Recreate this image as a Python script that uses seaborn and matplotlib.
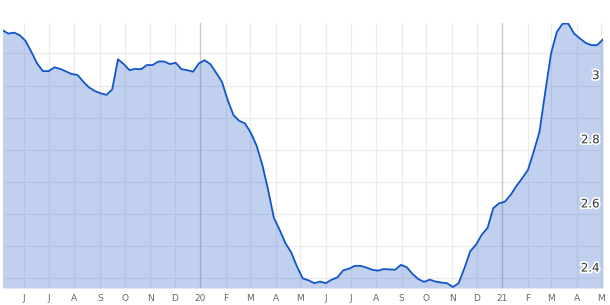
import numpy as np
import pandas as pd
import matplotlib
matplotlib.use("Agg")
import matplotlib.pyplot as plt
import matplotlib.patheffects as pe
import matplotlib.transforms as mtransforms
import seaborn as sns

# ---- data ----
start_date = "2019-05-06"
values = [3.173, 3.162, 3.165, 3.157, 3.139, 3.105, 3.069, 3.045, 3.045, 3.057,
          3.052, 3.044, 3.036, 3.033, 3.012, 2.994, 2.983, 2.976, 2.971, 2.988,
          3.082, 3.067, 3.048, 3.052, 3.051, 3.064, 3.064, 3.075, 3.075, 3.067,
          3.071, 3.051, 3.048, 3.043, 3.069, 3.079, 3.067, 3.040, 3.012, 2.955,
          2.908, 2.890, 2.882, 2.853, 2.813, 2.753, 2.675, 2.588, 2.550, 2.509,
          2.480, 2.436, 2.399, 2.393, 2.384, 2.389, 2.384, 2.395, 2.402, 2.424,
          2.429, 2.438, 2.438, 2.433, 2.426, 2.423, 2.428, 2.427, 2.426, 2.441,
          2.434, 2.413, 2.397, 2.388, 2.395, 2.389, 2.386, 2.384, 2.372, 2.384,
          2.431, 2.483, 2.504, 2.535, 2.556, 2.618, 2.633, 2.638, 2.659, 2.687,
          2.711, 2.737, 2.794, 2.856, 2.980, 3.100, 3.167, 3.193, 3.193, 3.162,
          3.147, 3.133, 3.126, 3.126, 3.144]
month_labels = ["J", "J", "A", "S", "O", "N", "D", "20", "F", "M", "A", "M",
                "J", "J", "A", "S", "O", "N", "D", "21", "F", "M", "A", "M"]
year_labels = ["20", "21"]
y_grid = [2.4, 2.5, 2.6, 2.7, 2.8, 2.9, 3.0, 3.1]
y_tick_values = [2.4, 2.6, 2.8, 3.0]
y_tick_labels = ["2.4", "2.6", "2.8", "3"]

dates = pd.date_range(start_date, periods=len(values), freq="7D")
month_ticks = pd.date_range("2019-06-01", periods=len(month_labels), freq="MS")
df = pd.DataFrame({"date": dates, "value": values})

sns.set_style("white")
plt.rcParams["font.family"] = ["DejaVu Sans"]

W, H = 610, 305
fig = plt.figure(figsize=(W / 100, H / 100), dpi=100)
left, right, top, bottom = 2.5, 603.0, 22.7, 288.0
ax = fig.add_axes([left / W, (H - bottom) / H, (right - left) / W, (bottom - top) / H])

ymin, ymax = 2.369, 3.196
ax.set_xlim(dates[0], dates[-1])
ax.set_ylim(ymin, ymax)

# grid
for yv in y_grid:
    ax.axhline(yv, color="#ececec", lw=1.0, zorder=0)
for d, lab in zip(month_ticks, month_labels):
    c = "#c8c8c8" if lab in year_labels else "#ececec"
    ax.axvline(d, color=c, lw=1.0, zorder=0)

# area + line
ax.fill_between(df["date"], df["value"], ymin, color="#3366cc", alpha=0.3, lw=0, zorder=1)
sns.lineplot(data=df, x="date", y="value", ax=ax, color="#1155cc", lw=1.3, zorder=3)

for s in ax.spines.values():
    s.set_visible(False)

ax.set_xticks(month_ticks)
ax.set_xticklabels(month_labels)
ax.tick_params(axis="x", length=0, pad=4, labelsize=6.5, labelcolor="#666666")
ax.set_yticks([])
ax.set_xlabel("")
ax.set_ylabel("")

trans = mtransforms.blended_transform_factory(ax.transAxes, ax.transData)
for yv, lab in zip(y_tick_values, y_tick_labels):
    ax.annotate(lab, xy=(1.0, yv), xycoords=trans, xytext=(-2.5, 2.5),
                textcoords="offset points", ha="right", va="bottom",
                fontsize=8.5, color="#333333", zorder=5,
                path_effects=[pe.withStroke(linewidth=2.5, foreground="white")])

fig.savefig("out.png", dpi=100)
